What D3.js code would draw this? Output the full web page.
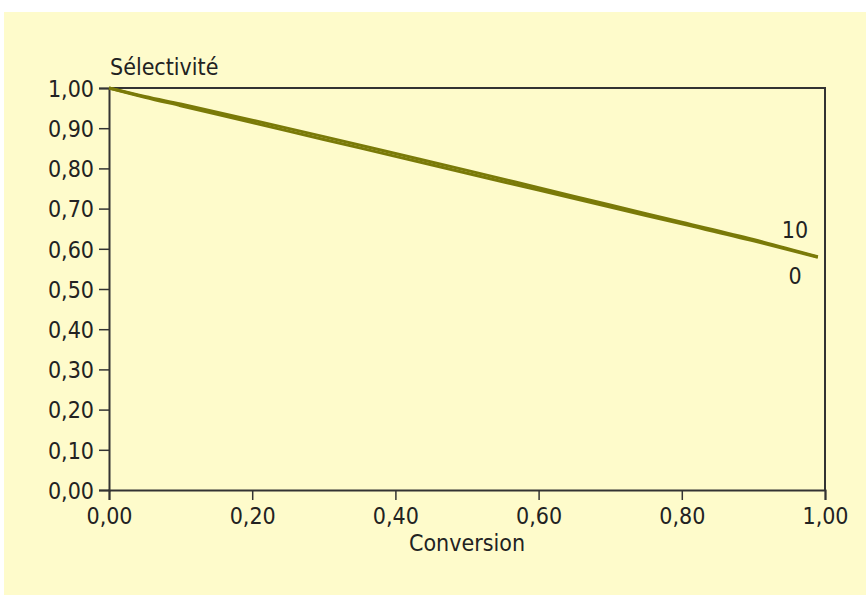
<!DOCTYPE html>
<html>
<head>
<meta charset="utf-8">
<script src="https://cdn.jsdelivr.net/npm/d3@7"></script>
<style>
  html, body { margin: 0; padding: 0; background: #fff; }
  svg text { font-family: "DejaVu Sans Condensed", "Liberation Sans", sans-serif; fill: #222; }
</style>
</head>
<body>
<svg id="graphe" width="866" height="597"></svg>
<script>
// conversion (axe x)
const conversion = [0, 0.05, 0.10, 0.20, 0.30, 0.40, 0.50, 0.60, 0.70, 0.80, 0.90, 0.99];
// sélectivité pour les deux courbes
const selectivite0  = [1.000, 0.977, 0.956, 0.914, 0.872, 0.830, 0.788, 0.746, 0.704, 0.662, 0.620, 0.579];
const selectivite10 = [1.000, 0.979, 0.960, 0.920, 0.879, 0.837, 0.795, 0.752, 0.709, 0.666, 0.623, 0.580];
const series = [
    { nom: "10", valeurs: selectivite10 },
    { nom: "0",  valeurs: selectivite0 },
];
const ticksX = [0, 0.2, 0.4, 0.6, 0.8, 1.0];
const ticksY = [0, 0.1, 0.2, 0.3, 0.4, 0.5, 0.6, 0.7, 0.8, 0.9, 1.0];

const width = 866, height = 597;
const marge = { gauche: 109, droite: 825, haut: 88, bas: 490 };
const svg = d3.select("#graphe");
const fmt = v => d3.format(".2f")(v).replace(".", ",");
const taille = 23;

// fond jaune pâle
svg.append("rect")
    .attr("x", 4).attr("y", 12)
    .attr("width", width - 4).attr("height", 583)
    .attr("fill", "#fefbcb");

const x = d3.scaleLinear().domain([0, 1]).range([marge.gauche, marge.droite]);
const y = d3.scaleLinear().domain([0, 1]).range([marge.bas, marge.haut]);

// cadre (haut + droite)
svg.append("path")
    .attr("d", `M${x(0)},${y(1)}H${x(1)}V${y(0)}`)
    .attr("fill", "none")
    .attr("stroke", "#333")
    .attr("stroke-width", 2);

const axeX = svg.append("g")
    .attr("transform", `translate(0,${y(0)})`)
    .call(d3.axisBottom(x).tickValues(ticksX).tickFormat(fmt).tickSize(10).tickPadding(8));
const axeY = svg.append("g")
    .attr("transform", `translate(${x(0)},0)`)
    .call(d3.axisLeft(y).tickValues(ticksY).tickFormat(fmt).tickSize(10).tickPadding(5));

[axeX, axeY].forEach(a => {
    a.select(".domain").attr("stroke", "#333").attr("stroke-width", 2);
    a.selectAll(".tick line").attr("stroke", "#333").attr("stroke-width", 1.5);
    a.selectAll(".tick text").attr("font-size", taille).attr("fill", "#222")
        .style("font-family", '"DejaVu Sans Condensed", sans-serif');
});
axeY.selectAll(".tick text").attr("dy", "0.36em");

// courbes
const ligne = d3.line()
    .x((d, i) => x(conversion[i]))
    .y(d => y(d))
    .curve(d3.curveMonotoneX);

svg.selectAll(".courbe")
    .data(series)
    .join("path")
    .attr("class", "courbe")
    .attr("d", d => ligne(d.valeurs))
    .attr("fill", "none")
    .attr("stroke", "#7a7a08")
    .attr("stroke-width", 3);

// étiquettes des courbes
svg.append("text").attr("x", 795).attr("y", 238).attr("text-anchor", "middle")
    .attr("font-size", taille).text(series[0].nom);
svg.append("text").attr("x", 795).attr("y", 284).attr("text-anchor", "middle")
    .attr("font-size", taille).text(series[1].nom);

// titres des axes
svg.append("text").attr("x", 110).attr("y", 75)
    .attr("font-size", taille).text("Sélectivité");
svg.append("text").attr("x", (x(0) + x(1)) / 2).attr("y", 551).attr("text-anchor", "middle")
    .attr("font-size", taille).text("Conversion");
</script>
</body>
</html>
